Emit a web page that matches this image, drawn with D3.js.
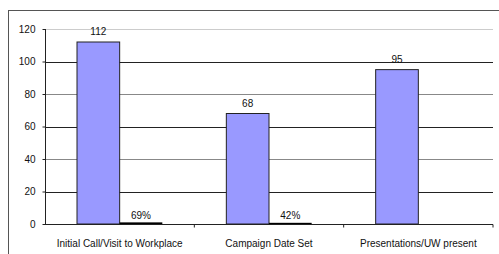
<!DOCTYPE html>
<html>
<head>
<meta charset="utf-8">
<script src="https://cdn.jsdelivr.net/npm/d3@7"></script>
<style>
  body { margin: 0; background: #fff; }
  svg { display: block; font-family: "Liberation Sans", Arial, sans-serif; }
</style>
</head>
<body>
<svg id="chart" width="499" height="254"></svg>
<script>
const categories = ['Initial Call/Visit to Workplace', 'Campaign Date Set', 'Presentations/UW present'];
const counts = [112, 68, 95];
const rates = [0.69, 0.42, null];
const rateLabels = ['69%', '42%', null];
const yTicks = [0, 20, 40, 60, 80, 100, 120];

const svg = d3.select('#chart');
const margin = {left: 45, right: 6, top: 29, bottom: 30};
const width = 499, height = 254;

// outer frame (runs off the right and bottom edge)
svg.append('rect')
  .attr('x', 8.5).attr('y', 10.5)
  .attr('width', 520).attr('height', 300)
  .attr('fill', 'none').attr('stroke', '#555');

let x = d3.scaleBand()
  .domain(categories)
  .range([margin.left, width - margin.right]);

let y = d3.scaleLinear()
  .domain([0, 120])
  .range([height - margin.bottom, margin.top]);

// gridlines
svg.append('g')
  .selectAll('line')
  .data(yTicks.filter(d => d > 0))
  .join('line')
  .attr('x1', margin.left).attr('x2', width - margin.right)
  .attr('y1', d => Math.round(y(d)) + 0.5).attr('y2', d => Math.round(y(d)) + 0.5)
  .attr('stroke', d => d === 120 ? '#ccc' : (d % 40 === 0 ? '#888' : '#222'));

// bars: each group has two bars with gap width 150%
let barW = x.bandwidth() / 3.5;
let off = barW * 0.75;

svg.append('g')
  .selectAll('rect')
  .data(categories)
  .join('rect')
  .attr('x', d => x(d) + off)
  .attr('y', (d, i) => y(counts[i]))
  .attr('width', barW)
  .attr('height', (d, i) => y(0) - y(counts[i]))
  .attr('fill', '#9999ff')
  .attr('stroke', '#222')
  .attr('stroke-width', 1);

let rateData = categories.map((c, i) => ({c, v: rates[i], label: rateLabels[i]})).filter(d => d.v != null);

svg.append('g')
  .selectAll('rect')
  .data(rateData)
  .join('rect')
  .attr('x', d => x(d.c) + off + barW)
  .attr('y', d => y(d.v) - 0.5)
  .attr('width', barW)
  .attr('height', d => y(0) - y(d.v) + 0.5)
  .attr('fill', '#000');

// value labels
svg.append('g')
  .selectAll('text')
  .data(categories)
  .join('text')
  .attr('x', d => x(d) + off + barW / 2)
  .attr('y', (d, i) => y(counts[i]) - 7)
  .attr('text-anchor', 'middle')
  .attr('font-size', 10)
  .attr('fill', '#111')
  .text((d, i) => counts[i]);

svg.append('g')
  .selectAll('text')
  .data(rateData)
  .join('text')
  .attr('x', d => x(d.c) + off + barW * 1.5)
  .attr('y', d => y(d.v) - 4)
  .attr('text-anchor', 'middle')
  .attr('font-size', 10)
  .attr('fill', '#111')
  .text(d => d.label);

// y axis
let yAxis = d3.axisLeft(y).tickValues(yTicks).tickSize(3).tickPadding(7);
let gy = svg.append('g')
  .attr('transform', `translate(${margin.left + 0.5},0)`)
  .call(yAxis);
gy.select('.domain').attr('stroke', '#222').attr('d', `M0,${y(120)}V${y(0)}`);
gy.selectAll('.tick line').attr('stroke', '#222');
gy.selectAll('.tick text').attr('font-size', 10).attr('fill', '#111')
  .attr('font-family', '"Liberation Sans", Arial, sans-serif');

// x axis
let gx = svg.append('g')
  .attr('transform', `translate(0,${y(0) + 0.5})`);
gx.append('line')
  .attr('x1', margin.left).attr('x2', width - margin.right)
  .attr('stroke', '#222');
gx.selectAll('.xtick')
  .data(categories.slice(1).concat(['end']))
  .join('line')
  .attr('class', 'xtick')
  .attr('x1', d => d === 'end' ? width - margin.right : x(d))
  .attr('x2', d => d === 'end' ? width - margin.right : x(d))
  .attr('y1', 0).attr('y2', 3)
  .attr('stroke', '#222');
gx.selectAll('text')
  .data(categories)
  .join('text')
  .attr('x', d => x(d) + x.bandwidth() / 2)
  .attr('y', 22)
  .attr('text-anchor', 'middle')
  .attr('font-size', 10)
  .attr('fill', '#111')
  .text(d => d);
</script>
</body>
</html>
